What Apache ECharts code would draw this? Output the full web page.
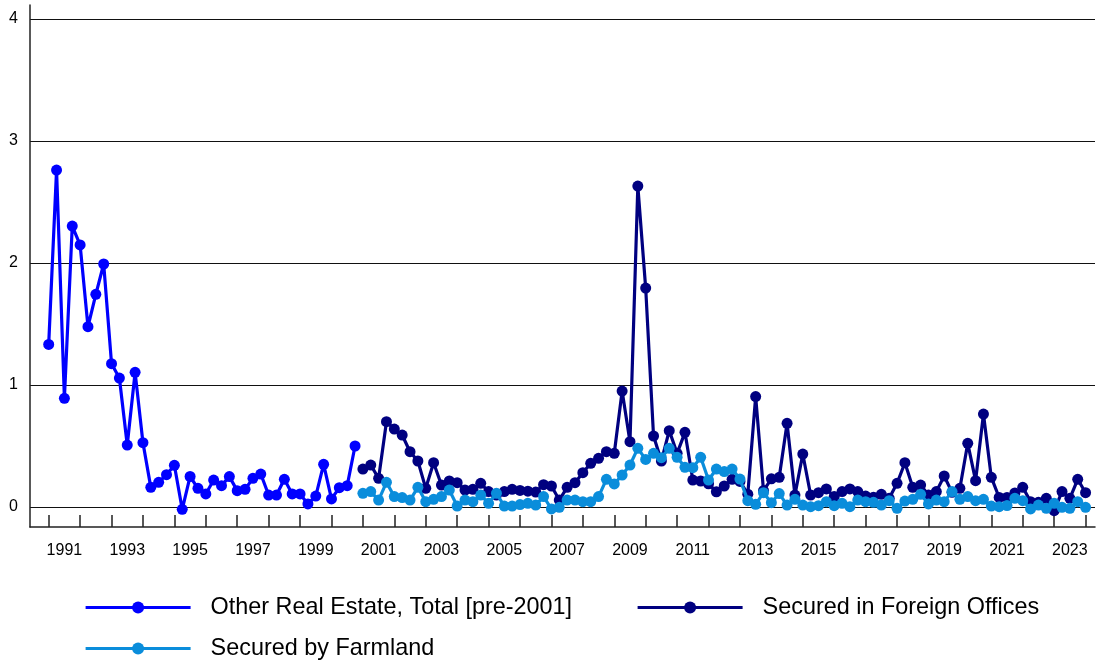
<!DOCTYPE html>
<html><head><meta charset="utf-8">
<script src="https://cdn.jsdelivr.net/npm/echarts@6/dist/echarts.min.js"></script>
<style>html,body{margin:0;padding:0;background:#fff}#c{width:1096px;height:663px}</style>
</head><body><div id="c"></div>
<script>
// Quarterly series, first quarter given; each value is one quarter later
const seriesNames = ['Other Real Estate, Total [pre-2001]', 'Secured in Foreign Offices', 'Secured by Farmland'];
const otherRealEstateStart = '1990Q4';
const otherRealEstate = [1.333, 2.762, 0.891, 2.303, 2.148, 1.478, 1.743, 1.992, 1.175, 1.057,
  0.508, 1.104, 0.527, 0.161, 0.202, 0.265, 0.342, -0.019, 0.250, 0.153,
  0.107, 0.221, 0.175, 0.249, 0.134, 0.145, 0.235, 0.270, 0.098, 0.098,
  0.227, 0.107, 0.107, 0.025, 0.090, 0.350, 0.066, 0.158, 0.175, 0.500];
const newSeriesStart = '2000Q4';
const foreignOffices = [0.311, 0.344, 0.235, 0.699, 0.639, 0.590, 0.453, 0.377, 0.153, 0.363,
  0.180, 0.213, 0.199, 0.139, 0.145, 0.194, 0.126, 0.098, 0.126, 0.145,
  0.136, 0.130, 0.122, 0.183, 0.172, 0.057, 0.161, 0.199, 0.281, 0.358,
  0.399, 0.453, 0.440, 0.950, 0.535, 2.631, 1.795, 0.582, 0.377, 0.626,
  0.440, 0.612, 0.221, 0.213, 0.190, 0.125, 0.172, 0.227, 0.210, 0.105,
  0.905, 0.135, 0.231, 0.243, 0.686, 0.098, 0.434, 0.098, 0.117, 0.148,
  0.085, 0.126, 0.148, 0.126, 0.090, 0.079, 0.104, 0.071, 0.194, 0.363,
  0.161, 0.180, 0.098, 0.126, 0.254, 0.120, 0.153, 0.522, 0.216, 0.762,
  0.243, 0.078, 0.078, 0.115, 0.161, 0.044, 0.038, 0.071, -0.030, 0.126,
  0.071, 0.227, 0.117];
const farmland = [0.112, 0.126, 0.057, 0.202, 0.085, 0.077, 0.057, 0.161, 0.044, 0.063,
  0.085, 0.139, 0.008, 0.057, 0.044, 0.098, 0.030, 0.112, 0.008, 0.008,
  0.020, 0.030, 0.016, 0.085, -0.016, -0.003, 0.057, 0.057, 0.044, 0.044,
  0.085, 0.227, 0.189, 0.262, 0.344, 0.481, 0.390, 0.440, 0.404, 0.481,
  0.407, 0.325, 0.322, 0.407, 0.221, 0.311, 0.290, 0.311, 0.229, 0.052,
  0.022, 0.117, 0.035, 0.110, 0.016, 0.063, 0.016, 0.003, 0.011, 0.044,
  0.011, 0.030, 0.003, 0.057, 0.044, 0.038, 0.016, 0.052, -0.011, 0.049,
  0.063, 0.104, 0.025, 0.057, 0.044, 0.126, 0.063, 0.085, 0.052, 0.063,
  0.008, 0.003, 0.012, 0.071, 0.052, -0.016, 0.016, -0.011, 0.030, -0.003,
  -0.011, 0.044, -0.003];
const yTickValues = [0, 1, 2, 3, 4];
const yearTicks = [1991,1992,1993,1994,1995,1996,1997,1998,1999,2000,2001,2002,2003,2004,2005,2006,2007,2008,2009,2010,2011,2012,2013,2014,2015,2016,2017,2018,2019,2020,2021,2022,2023,2024];
const yearLabels = [1991,1993,1995,1997,1999,2001,2003,2005,2007,2009,2011,2013,2015,2017,2019,2021,2023];

// quarter-end position as decimal year (Q4 of year Y ends at Y+1)
function quarterEnd(startQ, i) {
  const y = +startQ.slice(0, 4), q = +startQ.slice(5);
  return y + (q + i) / 4;
}
function toPairs(startQ, vals) { return vals.map((v, i) => [quarterEnd(startQ, i), v]); }

const colors = ['#0000ff', '#000080', '#0a8ddb'];
const chart = echarts.init(document.getElementById('c'), null, {renderer: 'canvas'});
const mkSeries = (name, data, color, z) => ({
  name, type: 'line', data, z,
  symbol: 'circle', symbolSize: 11, showSymbol: true,
  lineStyle: {width: 3.2, color}, itemStyle: {color},
  emphasis: {disabled: true}, animation: false
});
const legendBase = {
  orient: 'horizontal', itemWidth: 105, itemHeight: 15,
  lineStyle: {width: 3.2},
  textStyle: {fontSize: 23.4, color: '#000', fontFamily: 'Liberation Sans, Arial, sans-serif', padding: [0, 0, 0, 15]},
  selectedMode: false
};
chart.setOption({
  animation: false,
  backgroundColor: '#fff',
  grid: {left: 30, right: 1, top: 5, bottom: 136, containLabel: false},
  xAxis: {
    type: 'value', min: 1990.405, max: 2024.3,
    axisLine: {show: true, onZero: false, lineStyle: {color: '#222', width: 1.5}},
    axisTick: {show: true, inside: true, length: 12, customValues: yearTicks, lineStyle: {color: '#222', width: 1.5}},
    axisLabel: {show: true, customValues: yearLabels.map(y => y + 0.5), formatter: v => String(Math.floor(v)),
      fontSize: 16, color: '#000', margin: 16, fontFamily: 'Liberation Sans, Arial, sans-serif'},
    splitLine: {show: false}
  },
  yAxis: {
    type: 'value', min: -0.164, max: 4.115,
    axisLine: {show: true, lineStyle: {color: '#222', width: 1.5}},
    axisTick: {show: false, customValues: yTickValues},
    axisLabel: {show: true, customValues: yTickValues, fontSize: 16, color: '#000', margin: 12,
      fontFamily: 'Liberation Sans, Arial, sans-serif'},
    splitLine: {show: true, lineStyle: {color: '#111', width: 1.2}}
  },
  legend: [
    Object.assign({}, legendBase, {data: [seriesNames[0]], left: 79, top: 591}),
    Object.assign({}, legendBase, {data: [seriesNames[1]], left: 631, top: 591}),
    Object.assign({}, legendBase, {data: [seriesNames[2]], left: 79, top: 632})
  ],
  series: [
    mkSeries(seriesNames[0], toPairs(otherRealEstateStart, otherRealEstate), colors[0], 3),
    mkSeries(seriesNames[1], toPairs(newSeriesStart, foreignOffices), colors[1], 2),
    mkSeries(seriesNames[2], toPairs(newSeriesStart, farmland), colors[2], 3)
  ]
});
</script>
</body></html>
